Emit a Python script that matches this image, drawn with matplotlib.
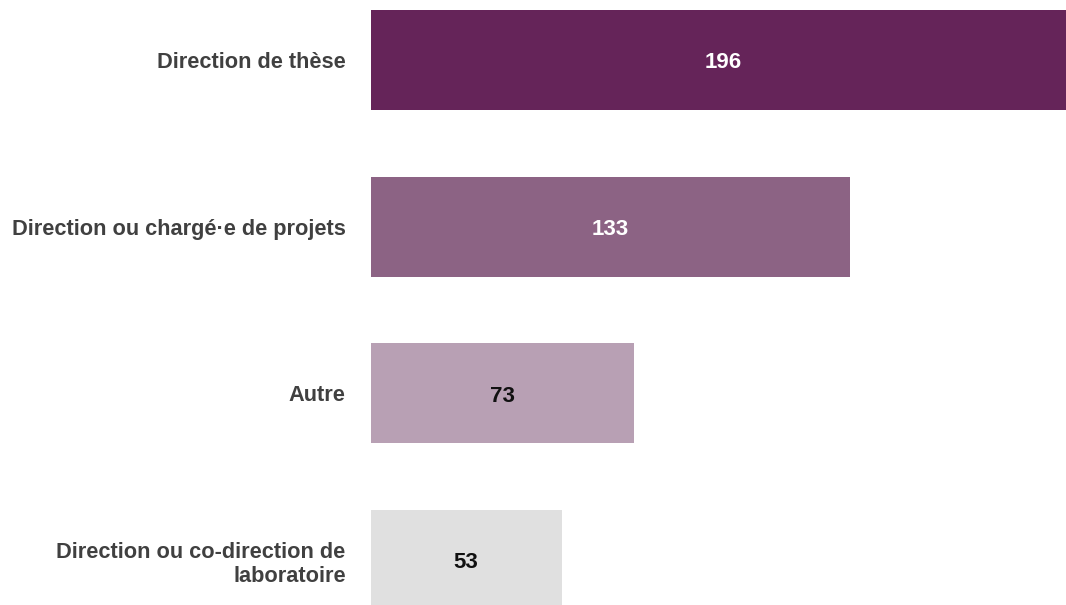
import matplotlib
matplotlib.use("Agg")
import matplotlib.pyplot as plt
from matplotlib.transforms import ScaledTranslation

categories = ["Direction de thèse", "Direction ou chargé·e de projets", "Autre",
              "Direction ou co-direction de\nlaboratoire"]
values = [196, 133, 73, 53]
colors = ["#652459", "#8c6384", "#b8a0b4", "#e0e0e0"]
label_colors = ["white", "white", "#111111", "#111111"]

plt.rcParams['font.family'] = ['Liberation Sans', 'DejaVu Sans']

fig = plt.figure(figsize=(10.66, 6.05), dpi=100)
W, H = 1066, 605
ax = fig.add_axes([370.7 / W, 0, 1 - 370.7 / W, 1])

pos = list(range(len(categories)))
ax.barh(pos, values, height=0.6, color=colors)
ax.set_xlim(0, (W - 370.7) / 3.6)
ax.set_ylim(3.27, -0.36)

offset = ScaledTranslation(0, -3 / 100, fig.dpi_scale_trans)
for p, v, c in zip(pos, values, label_colors):
    ax.text(v / 2, p, str(v), ha="center", va="center", color=c,
            fontsize=16, fontweight="bold", transform=ax.transData + offset)

ax.set_yticks(pos)
ax.set_yticklabels(categories, fontsize=15.7, fontweight="bold", color="#404040",
                   linespacing=1.2)
ax.tick_params(axis="y", length=0, pad=18)
ax.set_xticks([])
for s in ax.spines.values():
    s.set_visible(False)

fig.savefig("out.png", dpi=100)
